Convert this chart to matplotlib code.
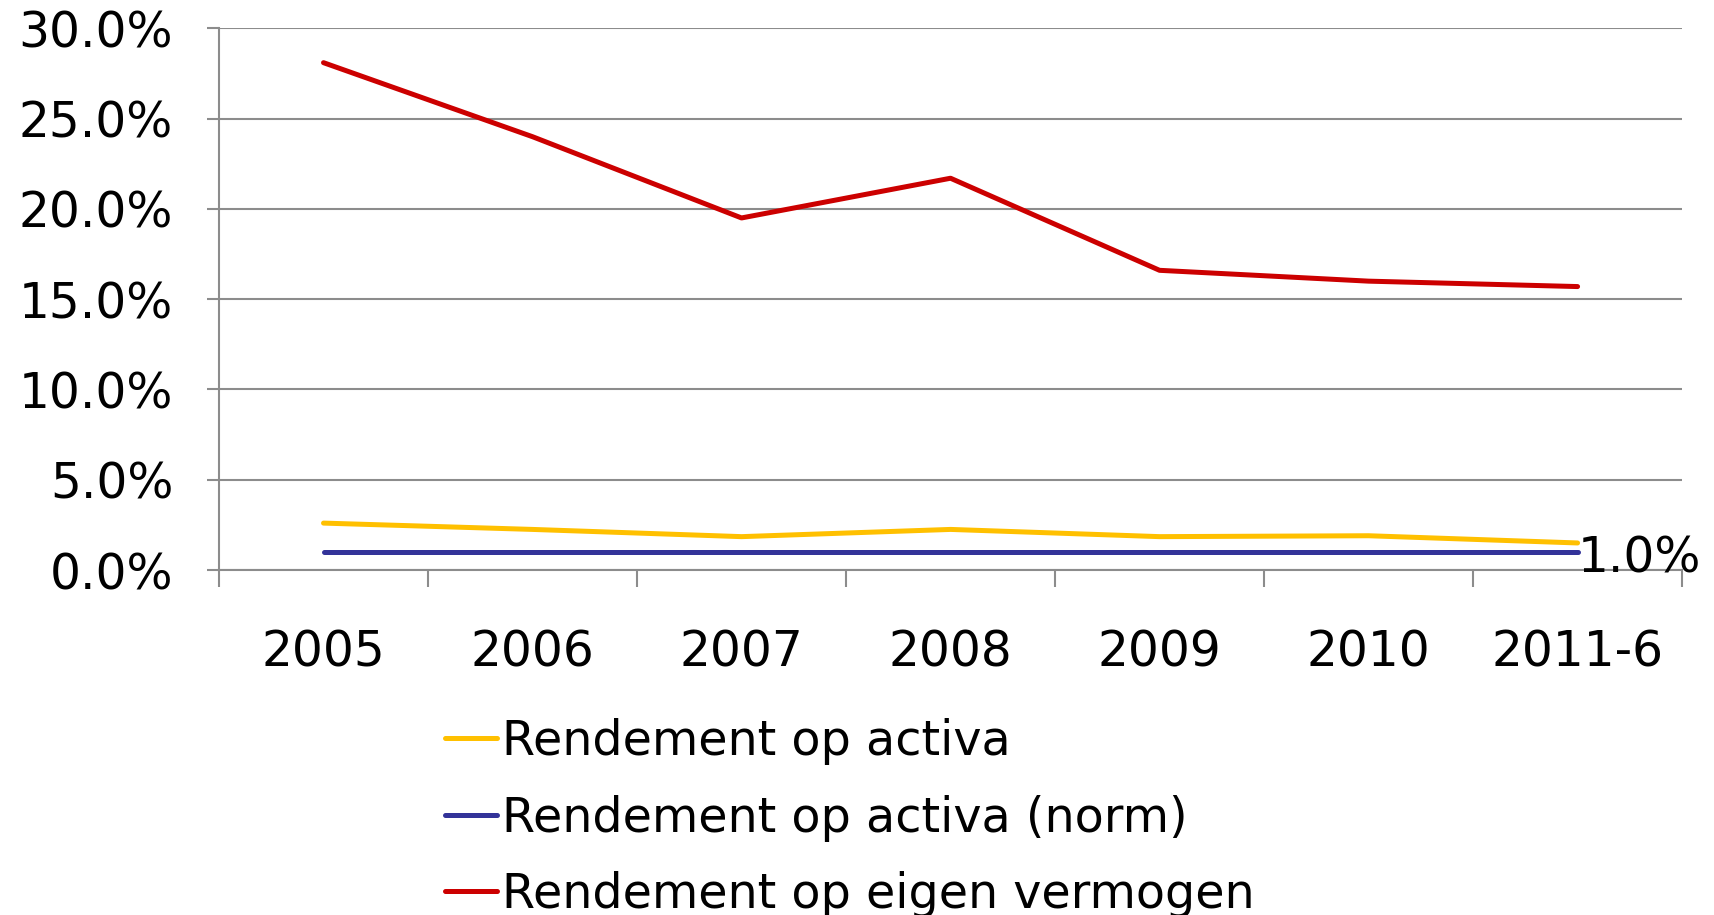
import matplotlib
matplotlib.use("Agg")
import matplotlib.pyplot as plt
from matplotlib.ticker import FixedLocator, FuncFormatter

categories = ["2005", "2006", "2007", "2008", "2009", "2010", "2011-6"]
roa = [2.6, 2.25, 1.85, 2.25, 1.85, 1.9, 1.5]
roa_norm = [1.0, 1.0, 1.0, 1.0, 1.0, 1.0, 1.0]
roe = [28.1, 24.0, 19.5, 21.7, 16.6, 16.0, 15.7]
labels = ["Rendement op activa", "Rendement op activa (norm)", "Rendement op eigen vermogen"]
yticks = [0, 5, 10, 15, 20, 25, 30]

plt.rcParams['font.family'] = ['DejaVu Sans']
fs = 35
lfs = 34.3
grid_c = "#8c8c8c"
lw = 3.6

fig = plt.figure(figsize=(17.15, 9.15), dpi=100)
ax = fig.add_axes([0.1277, 0.377, 0.8531, 0.592])

x = list(range(len(categories)))
l1, = ax.plot(x, roa, color="#ffc000", lw=lw, solid_capstyle="round", label=labels[0])
l2, = ax.plot(x, roa_norm, color="#333399", lw=lw, solid_capstyle="round", label=labels[1])
l3, = ax.plot(x, roe, color="#cc0000", lw=lw, solid_capstyle="round", label=labels[2])

ax.annotate(f"{roa_norm[-1]:.1f}%", (x[-1], roa_norm[-1]), xytext=(0, -5),
            textcoords="offset points", ha="left", va="center", fontsize=fs)

ax.set_xlim(-0.5, len(categories) - 0.5)
ax.set_ylim(0, 30)
ax.yaxis.set_major_locator(FixedLocator(yticks))
ax.yaxis.set_major_formatter(FuncFormatter(lambda v, p: f"{v:.1f}%"))
ax.set_xticks(x)
ax.set_xticklabels(categories)
ax.xaxis.set_minor_locator(FixedLocator([i - 0.5 for i in range(len(categories) + 1)]))

ax.grid(axis="y", color=grid_c, lw=1.5)
ax.set_axisbelow(True)
for s in ["top", "right"]:
    ax.spines[s].set_visible(False)
for s in ["left", "bottom"]:
    ax.spines[s].set_color(grid_c)
    ax.spines[s].set_linewidth(1.5)

ax.tick_params(axis="y", which="major", length=9, width=1.5, color=grid_c,
               labelsize=fs, pad=24, direction="out")
ax.tick_params(axis="x", which="major", length=0, labelsize=fs, pad=42)
ax.tick_params(axis="x", which="minor", length=12, width=1.5, color=grid_c, direction="out")

leg = fig.legend(handles=[l1, l2, l3], loc="upper left",
                 bbox_to_anchor=(445 / 1715, 1 - 718 / 915), frameon=False,
                 fontsize=lfs, handlelength=1.1, handletextpad=0.1,
                 labelspacing=0.62, borderpad=0, borderaxespad=0)

fig.savefig("out.png", dpi=100)
